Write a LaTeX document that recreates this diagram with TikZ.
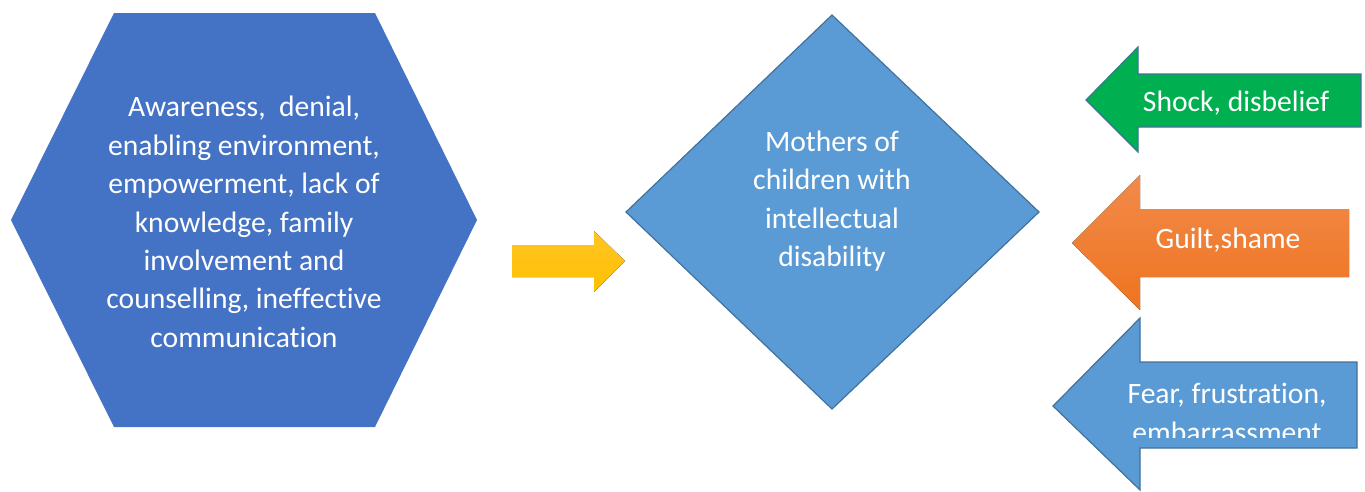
\documentclass[tikz,border=0pt]{standalone}
\usepackage{fontspec}
\setmainfont{Carlito}[Ligatures=NoCommon]
\definecolor{hexblue}{HTML}{4472C4}
\definecolor{diablue}{HTML}{5B9BD5}
\definecolor{edgeblue}{HTML}{41719C}
\definecolor{grn}{HTML}{00B050}
\definecolor{orgtop}{HTML}{F28A4A}
\definecolor{orgbot}{HTML}{EE7420}
\definecolor{yeltop}{HTML}{FFC425}
\definecolor{yelbot}{HTML}{FFC000}
\begin{document}
\begin{tikzpicture}[x=1pt,y=-1pt,
  lbl/.style={text=white,font=\fontsize{29.6}{38.4}\selectfont,align=center,inner sep=0pt},
  outl/.style={draw=edgeblue,line width=1.2pt,line join=miter}]
\useasboundingbox (0,0) rectangle (1365,491);
% hexagon
\fill[hexblue] (114,13) -- (375,13) -- (477,220) -- (375,427) -- (114,427) -- (11,220) -- cycle;
\node[lbl] (hex) at (244,222) {Awareness,~ denial,\\enabling environment,\\empowerment, lack of\\knowledge, family\\involvement and\\counselling, ineffective\\communication};
% yellow arrow
\fill[top color=yeltop,bottom color=yelbot] (512,245) -- (594,245) -- (594,231) -- (625,261) -- (594,292) -- (594,277) -- (512,277) -- cycle;
% diamond
\filldraw[fill=diablue,outl] (832,15) -- (1039,212) -- (832,409) -- (626,212) -- cycle;
\node[lbl] (mom) at (832,201) {Mothers of\\children with\\intellectual\\disability};
% green arrow
\filldraw[fill=grn,outl] (1361,74) -- (1138,74) -- (1138,47) -- (1086,100) -- (1138,152) -- (1138,127) -- (1361,127) -- cycle;
\node[lbl] (shock) at (1236,103) {Shock, disbelief};
% orange arrow
\fill[top color=orgtop,bottom color=orgbot] (1349,209) -- (1140,209) -- (1140,175) -- (1072,243) -- (1140,310) -- (1140,277) -- (1349,277) -- cycle;
\node[lbl] (guilt) at (1228,240) {Guilt,shame};
% blue arrow
\filldraw[fill=diablue,outl] (1357,362) -- (1140,362) -- (1140,318) -- (1053,406) -- (1140,490) -- (1140,448) -- (1357,448) -- cycle;
\begin{scope}
\clip (1100,365) rectangle (1357,437.5);
\node[lbl] (fear) at (1227,413) {Fear, frustration,\\embarrassment};
\end{scope}
\end{tikzpicture}
\end{document}
